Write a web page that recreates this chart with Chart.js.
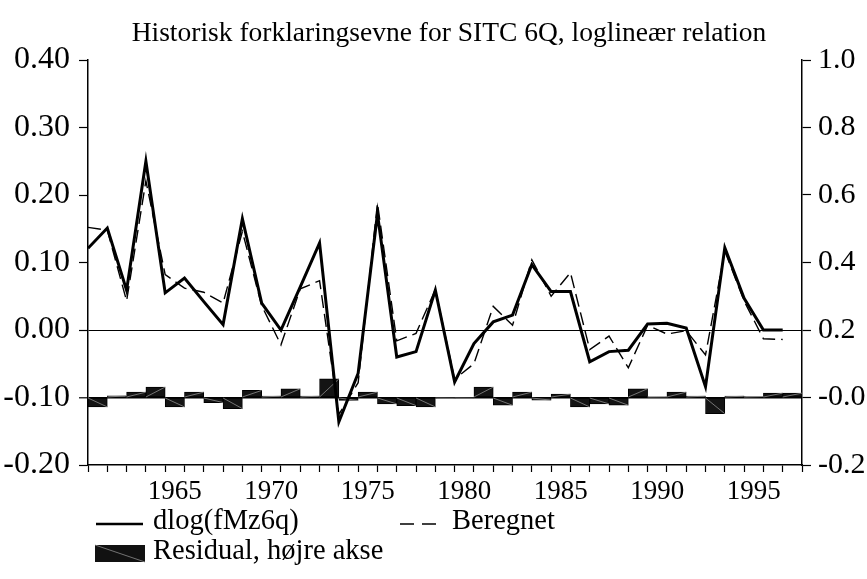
<!DOCTYPE html>
<html>
<head>
<meta charset="utf-8">
<script src="https://cdn.jsdelivr.net/npm/chart.js@4.4.1/dist/chart.umd.min.js"></script>
<style>
  html, body { margin: 0; padding: 0; background: #fff; }
  #wrap { width: 867px; height: 579px; }
</style>
</head>
<body>
<div id="wrap"><canvas id="chart" width="867" height="579"></canvas></div>
<script>
// Data
const years = [1961, 1962, 1963, 1964, 1965, 1966, 1967, 1968, 1969, 1970,
               1971, 1972, 1973, 1974, 1975, 1976, 1977, 1978, 1979, 1980,
               1981, 1982, 1983, 1984, 1985, 1986, 1987, 1988, 1989, 1990,
               1991, 1992, 1993, 1994, 1995, 1996, 1997];
const actual = [0.121, 0.151, 0.059, 0.250, 0.055, 0.077, 0.042, 0.008, 0.165, 0.040,
                0.000, 0.064, 0.129, -0.136, -0.064, 0.172, -0.040, -0.032, 0.059, -0.077,
                -0.020, 0.012, 0.022, 0.097, 0.057, 0.057, -0.047, -0.032, -0.030, 0.009,
                0.010, 0.003, -0.084, 0.122, 0.047, 0.000, 0.000];
const fitted = [0.152, 0.148, 0.043, 0.221, 0.082, 0.062, 0.056, 0.040, 0.146, 0.036,
                -0.022, 0.061, 0.073, -0.125, -0.078, 0.188, -0.016, -0.005, 0.060, -0.073,
                -0.050, 0.035, 0.007, 0.104, 0.050, 0.085, -0.029, -0.009, -0.056, 0.007,
                -0.006, -0.001, -0.037, 0.117, 0.043, -0.013, -0.014];
const residual = [-0.028, 0.005, 0.016, 0.031, -0.028, 0.016, -0.015, -0.033, 0.021, 0.004,
                  0.026, 0.004, 0.055, -0.009, 0.016, -0.019, -0.024, -0.028, -0.002, -0.002,
                  0.031, -0.023, 0.016, -0.008, 0.010, -0.028, -0.019, -0.023, 0.026, 0.002,
                  0.016, 0.004, -0.048, 0.004, 0.003, 0.013, 0.013];

const xLabelYears = [1965, 1970, 1975, 1980, 1985, 1990, 1995];
const leftTicks = [-0.2, -0.1, 0, 0.1, 0.2, 0.3, 0.4];
const leftTickLabels = ['-0.20', '-0.10', '0.00', '0.10', '0.20', '0.30', '0.40'];
const rightTicks = [-0.2, 0, 0.2, 0.4, 0.6, 0.8, 1.0];
const rightTickLabels = ['-0.2', '-0.0', '0.2', '0.4', '0.6', '0.8', '1.0'];

const titleText = 'Historisk forklaringsevne for SITC 6Q, loglineær relation';
const legendLabels = ['dlog(fMz6q)', 'Beregnet', 'Residual, højre akse'];

const FONT = '"Liberation Serif", "Times New Roman", serif';
const transparent = 'rgba(0,0,0,0)';

// thin grey diagonal inside each residual bar
const hatchPlugin = {
    id: 'hatch',
    afterDatasetDraw(chart, args) {
        if (chart.data.datasets[args.index].type !== 'bar') return;
        const ctx = chart.ctx;
        ctx.save();
        ctx.strokeStyle = '#8c8c8c';
        ctx.lineWidth = 0.8;
        args.meta.data.forEach(bar => {
            const p = bar.getProps(['x', 'y', 'base', 'width'], true);
            ctx.beginPath();
            ctx.moveTo(p.x - p.width / 2, p.base);
            ctx.lineTo(p.x + p.width / 2, p.y);
            ctx.stroke();
        });
        ctx.restore();
    }
};

// title and legend drawn like the original layout
const decorPlugin = {
    id: 'decor',
    afterDraw(chart) {
        const ctx = chart.ctx;
        ctx.save();
        ctx.fillStyle = '#000';
        ctx.font = '27.5px ' + FONT;
        ctx.textAlign = 'center';
        ctx.textBaseline = 'alphabetic';
        ctx.fillText(titleText, 449, 41);

        ctx.textAlign = 'left';
        ctx.textBaseline = 'middle';
        ctx.font = '28.5px ' + FONT;

        // solid
        ctx.strokeStyle = '#000';
        ctx.lineWidth = 2.5;
        ctx.beginPath();
        ctx.moveTo(96, 524);
        ctx.lineTo(143, 524);
        ctx.stroke();
        ctx.fillText(legendLabels[0], 153, 522);

        // dashed
        ctx.lineWidth = 1.3;
        ctx.setLineDash([14, 8]);
        ctx.beginPath();
        ctx.moveTo(400, 524);
        ctx.lineTo(444, 524);
        ctx.stroke();
        ctx.setLineDash([]);
        ctx.fillText(legendLabels[1], 452, 522);

        // residual box
        ctx.fillStyle = '#111';
        ctx.fillRect(95, 545, 50, 17);
        ctx.strokeStyle = '#8c8c8c';
        ctx.lineWidth = 0.8;
        ctx.beginPath();
        ctx.moveTo(95, 545);
        ctx.lineTo(145, 562);
        ctx.stroke();
        ctx.fillStyle = '#000';
        ctx.fillText(legendLabels[2], 153, 552);
        ctx.restore();
    }
};

const isZero = v => Math.abs(v) < 1e-9;
const isBase = v => Math.abs(v + 0.1) < 1e-9;

new Chart(document.getElementById('chart'), {
    data: {
        datasets: [
            {
                type: 'line',
                label: legendLabels[1],
                data: years.map((y, i) => ({ x: y, y: fitted[i] })),
                yAxisID: 'y',
                borderColor: '#000',
                borderWidth: 1.4,
                borderDash: [13, 6],
                pointRadius: 0,
                tension: 0,
                order: 1
            },
            {
                type: 'line',
                label: legendLabels[0],
                data: years.map((y, i) => ({ x: y, y: actual[i] })),
                yAxisID: 'y',
                borderColor: '#000',
                borderWidth: 3,
                pointRadius: 0,
                tension: 0,
                order: 2
            },
            {
                // each residual fills its year interval [t, t+1]
                type: 'bar',
                label: legendLabels[2],
                data: years.map((y, i) => ({ x: y + 0.5, y: residual[i] })),
                yAxisID: 'y2',
                backgroundColor: '#141414',
                borderColor: '#000',
                borderWidth: 1,
                borderSkipped: false,
                barPercentage: 1,
                categoryPercentage: 1,
                order: 3
            }
        ]
    },
    options: {
        responsive: false,
        animation: false,
        layout: { padding: { top: 60, left: 0, right: 0, bottom: 0 } },
        plugins: {
            legend: { display: false },
            title: { display: false },
            tooltip: { enabled: false }
        },
        scales: {
            x: {
                type: 'linear',
                position: 'bottom',
                min: 1961,
                max: 1998,
                offset: false,
                afterBuildTicks: scale => {
                    const t = years.map(v => ({ value: v }));
                    t.push({ value: 1998 });
                    scale.ticks = t;
                },
                afterFit: scale => { scale.height = 114; },
                border: { display: true, color: '#000', width: 1.5 },
                grid: {
                    offset: false,
                    drawOnChartArea: false,
                    drawTicks: true,
                    tickLength: 7,
                    tickWidth: 1.2,
                    color: '#000',
                    tickColor: '#000'
                },
                ticks: {
                    autoSkip: false,
                    maxRotation: 0,
                    padding: 4,
                    labelOffset: 9.6,   // year label sits in the middle of its interval
                    color: '#000',
                    font: { family: FONT, size: 27 },
                    callback: v => xLabelYears.includes(v) ? String(v) : ''
                }
            },
            y: {
                position: 'left',
                min: -0.2,
                max: 0.4,
                afterBuildTicks: scale => { scale.ticks = leftTicks.map(v => ({ value: v })); },
                afterFit: scale => { scale.width = 88; },
                border: { display: true, color: '#000', width: 1.5 },
                grid: {
                    drawTicks: true,
                    tickLength: 9,
                    tickWidth: 1.2,
                    tickColor: '#000',
                    color: ctx => (isZero(ctx.tick.value) || isBase(ctx.tick.value)) ? '#000' : transparent,
                    lineWidth: ctx => isBase(ctx.tick.value) ? 1.6 : 1
                },
                ticks: {
                    padding: 9,
                    color: '#000',
                    font: { family: FONT, size: 32 },
                    callback: v => leftTickLabels[leftTicks.findIndex(t => Math.abs(t - v) < 1e-9)]
                }
            },
            y2: {
                position: 'right',
                min: -0.2,
                max: 1.0,
                afterBuildTicks: scale => { scale.ticks = rightTicks.map(v => ({ value: v })); },
                afterFit: scale => { scale.width = 65; },
                border: { display: true, color: '#000', width: 1.5 },
                grid: {
                    drawOnChartArea: false,
                    drawTicks: true,
                    tickLength: 9,
                    tickWidth: 1.2,
                    tickColor: '#000'
                },
                ticks: {
                    padding: 7,
                    color: '#000',
                    font: { family: FONT, size: 30 },
                    callback: v => rightTickLabels[rightTicks.findIndex(t => Math.abs(t - v) < 1e-9)]
                }
            }
        }
    },
    plugins: [hatchPlugin, decorPlugin]
});
</script>
</body>
</html>
